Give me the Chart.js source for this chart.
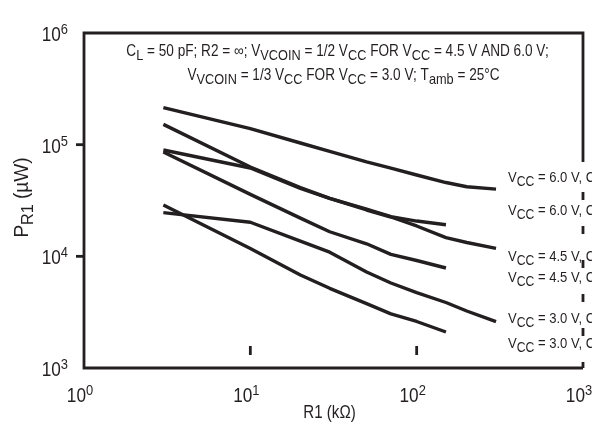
<!DOCTYPE html>
<html>
<head>
<meta charset="utf-8">
<script src="https://cdn.jsdelivr.net/npm/chart.js@4/dist/chart.umd.min.js"></script>
<style>
  html, body { margin: 0; padding: 0; background: #fff; }
  #wrap { width: 592px; height: 428px; position: relative; }
</style>
</head>
<body>
<div id="wrap"><canvas id="c" width="592" height="428"></canvas></div>
<script>
// R1 in kΩ (x axis), P_R1 in µW (y axis)
const r1Long  = [3, 10, 20, 30, 50, 70, 100, 150, 200, 300];
const r1Short = [3, 10, 20, 30, 50, 70, 100, 150];

const p60Long  = [215000, 139000, 103500, 86900, 70100, 61700, 53500, 45800, 42000, 40000];
const p60Short = [152000, 63100, 41300, 33100, 26500, 22700, 20700, 19200];
const p45Long  = [89600, 61800, 40500, 33000, 26000, 22500, 18700, 14700, 13300, 11800];
const p45Short = [86000, 35900, 22000, 16600, 12950, 10400, 9180, 7860];
const p30Long  = [24600, 20200, 13700, 10900, 7240, 5770, 4740, 3860, 3240, 2600];
const p30Short = [28800, 11750, 6810, 5170, 3770, 3050, 2610, 2100];

const xTicks = [1, 10, 100, 1000];
const yTicks = [1e3, 1e4, 1e5, 1e6];

const curveLabels = [
  'V_CC = 6.0 V, C1 = 40 pF',
  'V_CC = 6.0 V, C1 = 1 µF',
  'V_CC = 4.5 V, C1 = 40 pF',
  'V_CC = 4.5 V, C1 = 1 µF',
  'V_CC = 3.0 V, C1 = 40 pF',
  'V_CC = 3.0 V, C1 = 1 µF'
];

const INK = '#231f20';
const FAMILY = "'Liberation Sans', Arial, sans-serif";

function toPoints(xs, ys) { return xs.map((x, i) => ({ x: x, y: ys[i] })); }

// series order matches curveLabels; each label sits right of the plot, offset from the curve end
const series = [
  { r: r1Long,  p: p60Long,  dy: -7 },
  { r: r1Short, p: p60Short, dy: -10 },
  { r: r1Long,  p: p45Long,  dy: 13 },
  { r: r1Short, p: p45Short, dy: 14 },
  { r: r1Long,  p: p30Long,  dy: 1 },
  { r: r1Short, p: p30Short, dy: 16 }
];

// rich text: segments of [text, kind], kind 0 = normal, 1 = subscript, 2 = superscript
// sx condenses the glyphs horizontally (narrow typeface look)
function font(size) { return size + 'px ' + FAMILY; }
function segStyle(kind, o) {
  if (kind === 1) return { size: o.sub, dy: o.subDy };
  if (kind === 2) return { size: o.sup, dy: -o.supDy };
  return { size: o.size, dy: 0 };
}
function richWidth(ctx, segs, o) {
  let w = 0;
  segs.forEach(([t, k]) => { const s = segStyle(k, o); ctx.font = font(s.size); w += ctx.measureText(t).width; });
  return w * (o.sx || 1);
}
function drawRich(ctx, segs, x, y, o) {
  const sx = o.sx || 1;
  const w = richWidth(ctx, segs, o);
  let x0 = x;
  if (o.align === 'center') x0 = x - w / 2;
  else if (o.align === 'right') x0 = x - w;
  ctx.save();
  ctx.translate(x0, y);
  ctx.scale(sx, 1);
  ctx.textBaseline = 'alphabetic';
  ctx.textAlign = 'left';
  let cx = 0;
  segs.forEach(([t, k]) => {
    const s = segStyle(k, o);
    ctx.font = font(s.size);
    ctx.fillText(t, cx, s.dy);
    cx += ctx.measureText(t).width;
  });
  ctx.restore();
  return w;
}
function parseSub(str) {
  // "V_CC = ..." -> V, subscript CC, remainder
  const m = str.split('_');
  if (m.length === 1) return [[str, 0]];
  const rest = m[1];
  const sp = rest.indexOf(' ');
  return [[m[0], 0], [rest.slice(0, sp), 1], [rest.slice(sp), 0]];
}

const headerLine1 = [['C', 0], ['L', 1], [' = 50 pF; R2 = ∞; V', 0], ['VCOIN', 1], [' = 1/2 V', 0], ['CC', 1],
  [' FOR V', 0], ['CC', 1], [' = 4.5 V AND 6.0 V;', 0]];
const headerLine2 = [['V', 0], ['VCOIN', 1], [' = 1/3 V', 0], ['CC', 1], [' FOR V', 0], ['CC', 1],
  [' = 3.0 V; T', 0], ['amb', 1], [' = 25°C', 0]];

const decorations = {
  id: 'decorations',
  afterDraw(chart) {
    const ctx = chart.ctx;
    const ca = chart.chartArea;
    const xs = chart.scales.x, ys = chart.scales.y;
    ctx.save();
    ctx.strokeStyle = INK;
    ctx.fillStyle = INK;
    ctx.lineWidth = 2.8;
    ctx.lineCap = 'butt';

    // frame: left, bottom, top and upper right edge
    ctx.beginPath();
    ctx.moveTo(ca.right, ca.bottom);
    ctx.lineTo(ca.left, ca.bottom);
    ctx.lineTo(ca.left, ca.top);
    ctx.lineTo(ca.right, ca.top);
    ctx.lineTo(ca.right, ca.top + 129);
    ctx.stroke();
    // lower right edge, broken by the curve labels
    ctx.setLineDash([8, 26]);
    ctx.beginPath();
    ctx.moveTo(ca.right, ca.top + 159);
    ctx.lineTo(ca.right, ca.bottom);
    ctx.stroke();
    ctx.setLineDash([]);

    // y tick marks (outside) and x tick marks (inside, raised off the axis)
    yTicks.forEach(v => {
      if (v <= ys.min || v >= ys.max) return;
      const y = ys.getPixelForValue(v);
      ctx.beginPath(); ctx.moveTo(ca.left - 8, y); ctx.lineTo(ca.left, y); ctx.stroke();
    });
    xTicks.forEach(v => {
      if (v <= xs.min || v >= xs.max) return;
      const x = xs.getPixelForValue(v);
      ctx.beginPath(); ctx.moveTo(x, ca.bottom - 22); ctx.lineTo(x, ca.bottom - 13); ctx.stroke();
    });

    const tickOpt = { size: 20, sup: 15, supDy: 7, sub: 15, subDy: 4, sx: 0.86 };
    yTicks.forEach(v => {
      const y = ys.getPixelForValue(v);
      const e = Math.round(Math.log10(v));
      drawRich(ctx, [['10', 0], [String(e), 2]], ca.left - 16, y + 8, Object.assign({ align: 'right' }, tickOpt));
    });
    xTicks.forEach(v => {
      const x = xs.getPixelForValue(v);
      const e = Math.round(Math.log10(v));
      drawRich(ctx, [['10', 0], [String(e), 2]], x - 4, ca.bottom + 34, Object.assign({ align: 'center' }, tickOpt));
    });

    // axis titles
    drawRich(ctx, [['R1 (kΩ)', 0]], (ca.left + ca.right) / 2 - 4, ca.bottom + 50,
      { size: 18, sub: 15, subDy: 4, sup: 12, supDy: 6, sx: 0.84, align: 'center' });
    ctx.save();
    ctx.translate(28, (ca.top + ca.bottom) / 2 - 3);
    ctx.rotate(-Math.PI / 2);
    drawRich(ctx, [['P', 0], ['R1', 1], [' (µW)', 0]], 0, 0,
      { size: 20, sub: 17, subDy: 5, sup: 12, supDy: 6, sx: 0.95, align: 'center' });
    ctx.restore();

    // conditions header inside the plot
    const hdrOpt = { size: 16, sub: 15, subDy: 4, sup: 10, supDy: 5, sx: 0.85, align: 'center' };
    const cx = (ca.left + ca.right) / 2;
    drawRich(ctx, headerLine1, cx + 4, ca.top + 23, hdrOpt);
    drawRich(ctx, headerLine2, cx + 10, ca.top + 47, hdrOpt);

    // curve labels to the right of the curves
    const lblOpt = { size: 15, sub: 14, subDy: 4, sup: 10, supDy: 5, sx: 0.87, align: 'left' };
    const lx = xs.getPixelForValue(300) + 12;
    series.forEach((s, i) => {
      const endY = chart.getDatasetMeta(i).data[s.p.length - 1].y;
      drawRich(ctx, parseSub(curveLabels[i]), lx, endY + s.dy, lblOpt);
    });
    ctx.restore();
  }
};

new Chart(document.getElementById('c'), {
  type: 'line',
  data: {
    datasets: series.map((s, i) => ({
      label: curveLabels[i],
      data: toPoints(s.r, s.p),
      borderColor: INK,
      borderWidth: 3.4,
      pointRadius: 0,
      tension: 0,
      fill: false,
      borderJoinStyle: 'round',
      borderCapStyle: 'butt'
    }))
  },
  options: {
    responsive: false,
    animation: false,
    devicePixelRatio: 1,
    layout: { padding: { top: 33, right: 9, left: 0, bottom: 0 } },
    plugins: { legend: { display: false }, tooltip: { enabled: false } },
    scales: {
      x: {
        type: 'logarithmic', min: 1, max: 1000,
        ticks: { display: false }, grid: { display: false }, border: { display: false },
        afterFit(s) { s.height = 60; }
      },
      y: {
        type: 'logarithmic', min: 1e3, max: 1e6,
        ticks: { display: false }, grid: { display: false }, border: { display: false },
        afterFit(s) { s.width = 84; }
      }
    }
  },
  plugins: [decorations]
});
</script>
</body>
</html>
